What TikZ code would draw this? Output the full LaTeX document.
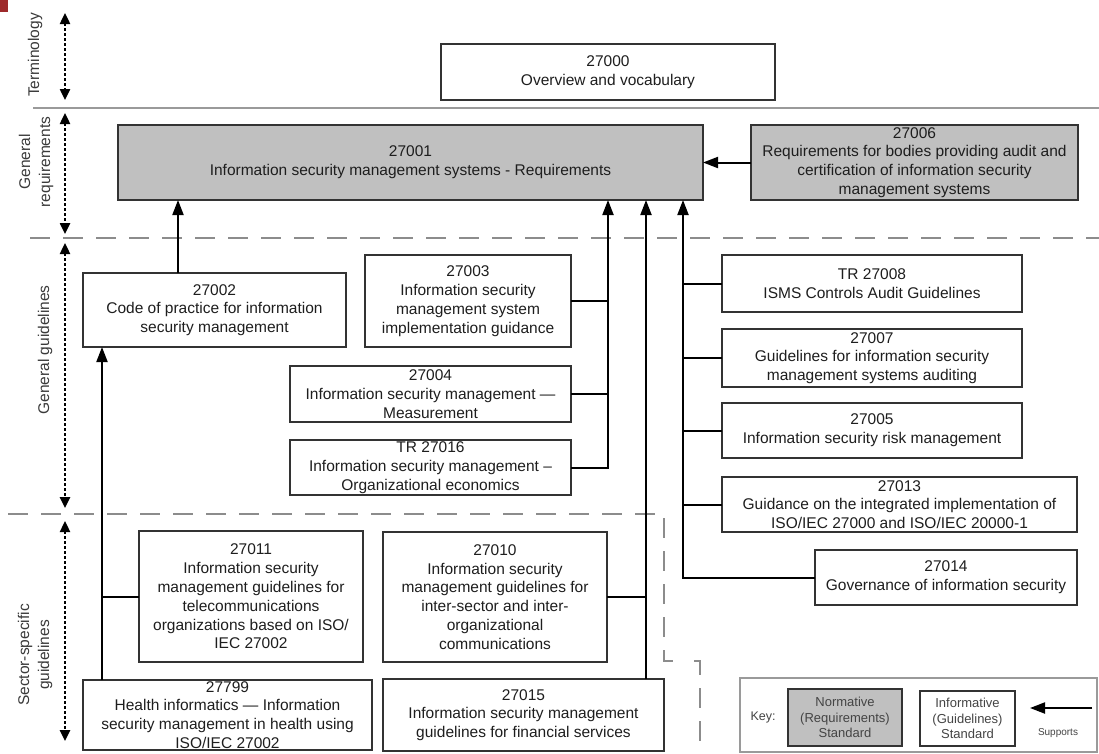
\documentclass[tikz,border=0pt]{standalone}
\usepackage{fontspec}
\setmainfont{Liberation Sans}
\usetikzlibrary{arrows.meta}
\definecolor{boxc}{HTML}{333333}
\definecolor{normfill}{HTML}{C0C0C0}
\definecolor{sepc}{HTML}{9A9A9A}
\definecolor{dashc}{HTML}{8C8C8C}
\definecolor{txt}{HTML}{1E1E1E}
\definecolor{labc}{HTML}{3A3A3A}
\definecolor{keyc}{HTML}{444444}
\definecolor{redmark}{HTML}{9E2A2B}
\begin{document}
\begin{tikzpicture}[x=1pt,y=-1pt,
  box/.style={draw=boxc, line width=1.3pt, fill=white, inner sep=0pt, outer sep=0pt,
    align=center, text=txt, font=\fontsize{15.5}{18.8}\selectfont},
  normbox/.style={box, fill=normfill},
  conn/.style={draw=black, line width=2pt},
  tip/.style={-{Triangle[length=15pt,width=11pt]}},
  dotarrow/.style={draw=black, line width=2.4pt, dash pattern=on 2.5pt off 2.5pt,
    {Triangle[length=11pt,width=10pt]}-{Triangle[length=11pt,width=10pt]}},
  sepline/.style={draw=sepc, line width=2.2pt},
  dashline/.style={draw=dashc, line width=2.2pt, dash pattern=on 20pt off 13pt},
  lab/.style={rotate=90, align=center, text=labc, font=\fontsize{15.5}{20}\selectfont},
  keytext/.style={align=center, text=keyc, font=\fontsize{13}{15.5}\selectfont}
]
\useasboundingbox (0,0) rectangle (1099,753);
\fill[white] (0,0) rectangle (1099,753);
\fill[redmark] (0,0) rectangle (8,12);

% separators
\draw[sepline] (33,108) -- (1099,108);
\draw[dashline] (30,238) -- (1099,238);
\draw[dashline] (8,514) -- (664,514) -- (664,661) -- (685,661);
\draw[dashline] (694,661) -- (700,661) -- (700,753);

% side labels and dotted arrows
\node[lab] (lterm) at (35,55) {Terminology};
\node[lab] (lreq) at (36,162) {General\\requirements};
\node[lab] (lgui) at (45,350) {General guidelines};
\node[lab] (lsec) at (35,655) {Sector-specific\\guidelines};
\coordinate (d1a) at (65,13);  \coordinate (d1b) at (65,100);
\coordinate (d2a) at (65,113); \coordinate (d2b) at (65,234);
\coordinate (d3a) at (65,243); \coordinate (d3b) at (65,508);
\coordinate (d4a) at (65,521); \coordinate (d4b) at (65,741);
\draw[dotarrow] (d1a) -- (d1b);
\draw[dotarrow] (d2a) -- (d2b);
\draw[dotarrow] (d3a) -- (d3b);
\draw[dotarrow] (d4a) -- (d4b);

% boxes
\node[box, minimum width=334, minimum height=56] (n27000) at (608,72) {27000\\Overview and vocabulary};
\node[normbox, minimum width=585, minimum height=75] (n27001) at (410.5,162.5) {27001\\Information security management systems - Requirements};
\node[normbox, minimum width=327, minimum height=75] (n27006) at (914.5,162.5) {27006\\Requirements for bodies providing audit and\\certification of information security\\management systems};
\node[box, minimum width=263, minimum height=74] (n27002) at (214.5,310) {27002\\Code of practice for information\\security management};
\node[box, minimum width=206, minimum height=92] (n27003) at (468,301) {27003\\Information security\\management system\\implementation guidance};
\node[box, minimum width=281, minimum height=56] (n27004) at (430.5,394) {27004\\Information security management ---\\Measurement};
\node[box, minimum width=281, minimum height=55] (n27016) at (430.5,467.5) {TR 27016\\Information security management --\\Organizational economics};
\node[box, minimum width=300, minimum height=57] (n27008) at (872,283.5) {TR 27008\\ISMS Controls Audit Guidelines};
\node[box, minimum width=300, minimum height=58] (n27007) at (872,358) {27007\\Guidelines for information security\\management systems auditing};
\node[box, minimum width=300, minimum height=55] (n27005) at (872,430.5) {27005\\Information security risk management};
\node[box, minimum width=355, minimum height=55] (n27013) at (899.5,504.5) {27013\\Guidance on the integrated implementation of\\ISO/IEC 27000 and ISO/IEC 20000-1};
\node[box, minimum width=262, minimum height=55] (n27014) at (946,577.5) {27014\\Governance of information security};
\node[box, minimum width=224, minimum height=131] (n27011) at (251,596.5) {27011\\Information security\\management guidelines for\\telecommunications\\organizations based on ISO/\\IEC 27002};
\node[box, minimum width=224, minimum height=130] (n27010) at (495,597) {27010\\Information security\\management guidelines for\\inter-sector and inter-\\organizational\\communications};
\node[box, minimum width=289, minimum height=70] (n27799) at (227.5,715) {27799\\Health informatics --- Information\\security management in health using\\ISO/IEC 27002};
\node[box, minimum width=281, minimum height=72] (n27015) at (523.5,715) {27015\\Information security management\\guidelines for financial services};

% trunk positions
\coordinate (xl) at (102,0);
\coordinate (xc) at (178,0);
\coordinate (xa) at (608,0);
\coordinate (xb) at (646,0);
\coordinate (xr) at (683,0);

% connectors
\draw[conn,tip] (n27006.west) -- (n27001.east |- n27006.west);
\draw[conn,tip] (xc |- n27002.north) -- (xc |- n27001.south);
\draw[conn,tip] (xl |- n27799.north) -- (xl |- n27002.south);
\draw[conn] (n27011.west) -- (n27011.west -| xl);
\draw[conn,tip] (n27016.east) -- (n27016.east -| xa) -- (xa |- n27001.south);
\draw[conn] (n27003.east) -- (n27003.east -| xa);
\draw[conn] (n27004.east) -- (n27004.east -| xa);
\draw[conn,tip] (xb |- n27015.north) -- (xb |- n27001.south);
\draw[conn] (n27010.east) -- (n27010.east -| xb);
\draw[conn,tip] (n27014.west) -- (n27014.west -| xr) -- (xr |- n27001.south);
\draw[conn] (n27008.west) -- (n27008.west -| xr);
\draw[conn] (n27007.west) -- (n27007.west -| xr);
\draw[conn] (n27005.west) -- (n27005.west -| xr);
\draw[conn] (n27013.west) -- (n27013.west -| xr);

% key
\node[draw=sepc, line width=1.8pt, fill=white, minimum width=357, minimum height=74, inner sep=0pt] (key) at (918.5,715) {};
\node[keytext, font=\fontsize{12.5}{15}\selectfont] (keylab) at (763,717) {Key:};
\node[normbox, keytext, minimum width=114, minimum height=57] (knorm) at (845,717.5) {Normative\\(Requirements)\\Standard};
\node[box, keytext, minimum width=95, minimum height=55] (kinf) at (967.5,718.5) {Informative\\(Guidelines)\\Standard};
\coordinate (ka) at (1092,708);
\coordinate (kb) at (1030,708);
\draw[conn,tip] (ka) -- (kb);
\node[keytext, font=\fontsize{10}{12}\selectfont] (ksup) at (1058,733) {Supports};
\end{tikzpicture}
\end{document}
